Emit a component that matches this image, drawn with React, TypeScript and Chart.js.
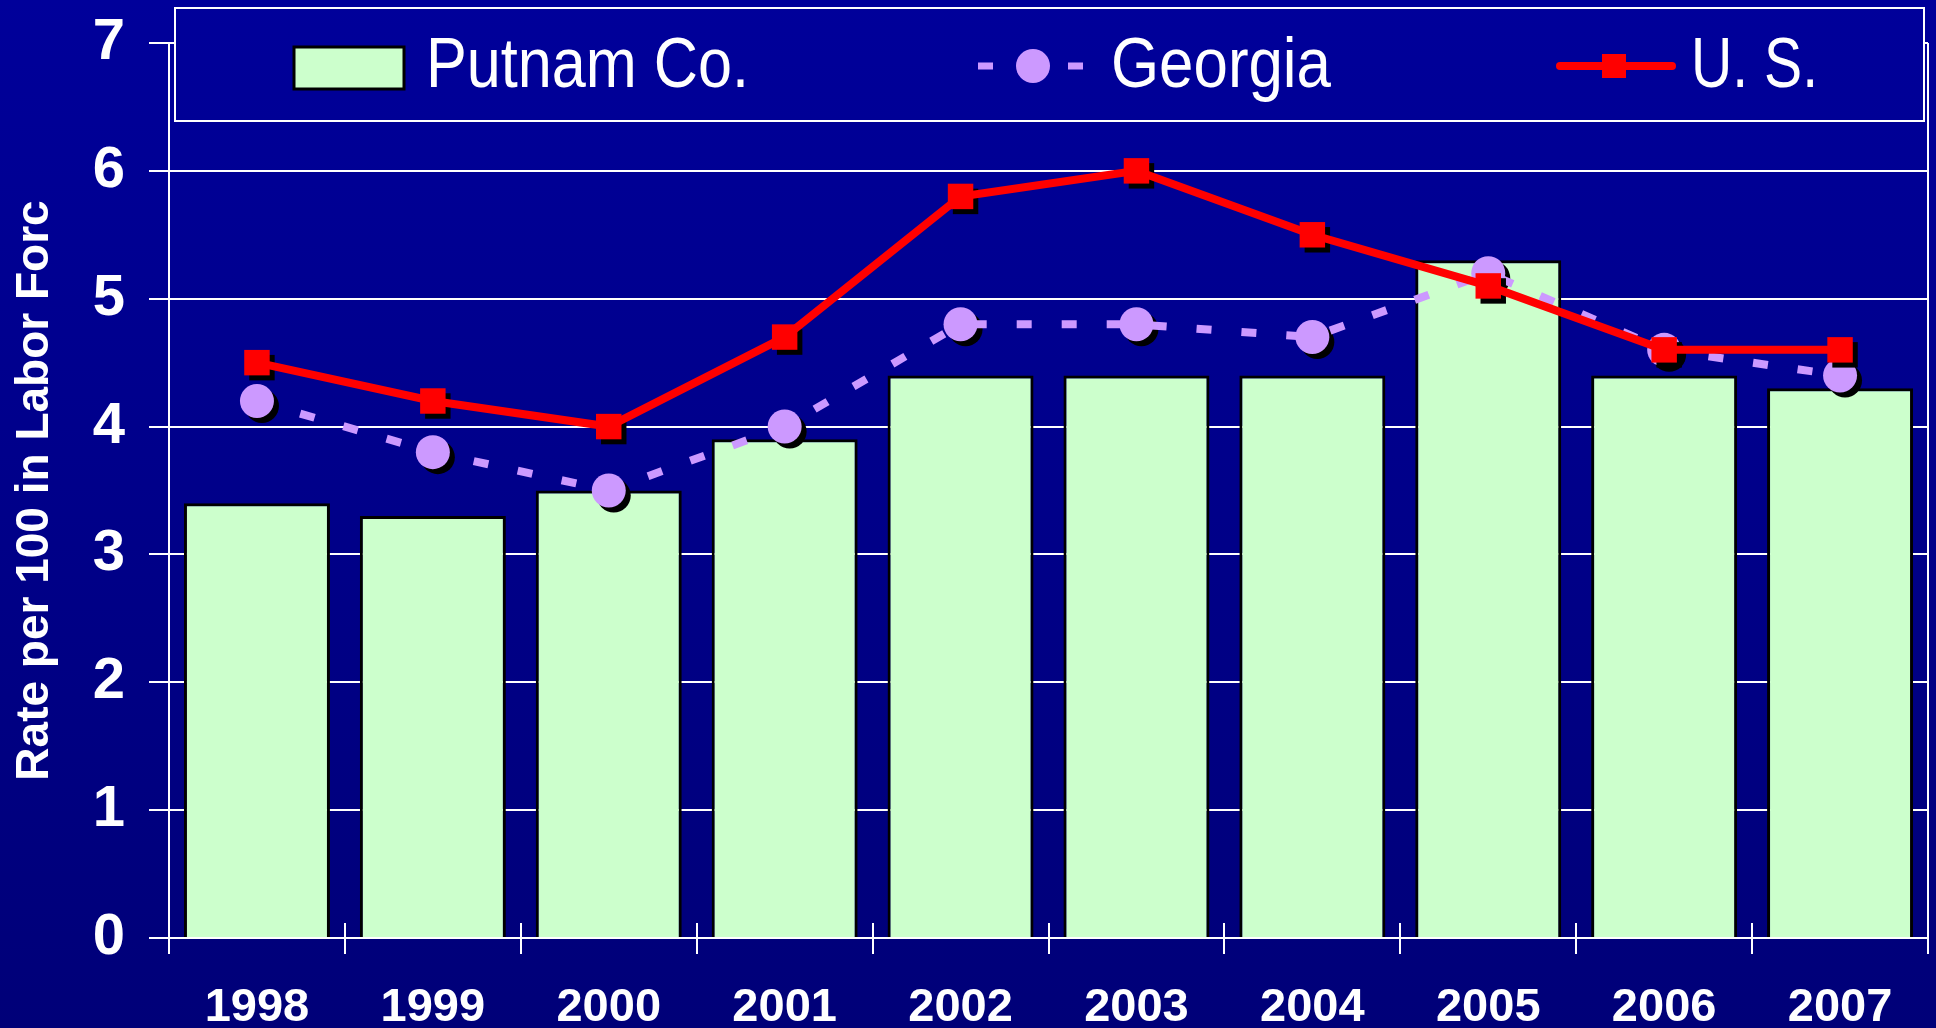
import React, { useEffect, useRef } from "react";
import { Chart, registerables } from "chart.js";

Chart.register(...registerables);

const years = ["1998", "1999", "2000", "2001", "2002", "2003", "2004", "2005", "2006", "2007"];
const putnamValues = [3.4, 3.3, 3.5, 3.9, 4.4, 4.4, 4.4, 5.3, 4.4, 4.3];
const georgiaValues = [4.2, 3.8, 3.5, 4.0, 4.8, 4.8, 4.7, 5.2, 4.6, 4.4];
const usValues = [4.5, 4.2, 4.0, 4.7, 5.8, 6.0, 5.5, 5.1, 4.6, 4.6];
const seriesLabels = ["Putnam Co.", "Georgia", "U. S."];
const yAxisTitle = "Rate per 100 in Labor Forc";
const yMin = 0;
const yMax = 7;
const yStep = 1;

const FONT = "'Liberation Sans', Arial, sans-serif";
const NARROW = "'Liberation Sans Narrow', 'Arial Narrow', 'Liberation Sans', sans-serif";
const BAR_FILL = "#CCFFCC";
const GEORGIA_COLOR = "#CC99FF";
const US_COLOR = "#FF0000";
const CANVAS_W = 1946;
const CANVAS_H = 1028;

function makeGradient(ctx: CanvasRenderingContext2D, h: number) {
  const g = ctx.createLinearGradient(0, 0, 0, h);
  g.addColorStop(0, "#00009A");
  g.addColorStop(1, "#000078");
  return g;
}

const backgroundPlugin = {
  id: "bgGradient",
  beforeDraw(chart: any) {
    const { ctx, width, height } = chart;
    ctx.save();
    ctx.fillStyle = makeGradient(ctx, height);
    ctx.fillRect(0, 0, width, height);
    ctx.restore();
  },
};

const framePlugin = {
  id: "frameTicks",
  beforeDatasetsDraw(chart: any) {
    const { ctx, chartArea } = chart;
    const { right, top, bottom } = chartArea;
    const x = chart.scales.x;
    ctx.save();
    ctx.strokeStyle = "#FFFFFF";
    ctx.lineWidth = 2;
    ctx.beginPath();
    ctx.moveTo(right, top);
    ctx.lineTo(right, bottom);
    ctx.stroke();
    const n = chart.data.labels.length;
    for (let i = 0; i <= n; i++) {
      const px = Math.round(x.getPixelForValue(i - 0.5));
      ctx.beginPath();
      ctx.moveTo(px, bottom - 15);
      ctx.lineTo(px, bottom + 16);
      ctx.stroke();
    }
    ctx.restore();
  },
};

const shadowPlugin = {
  id: "pointShadow",
  beforeDatasetDraw(chart: any, args: any) {
    const meta = args.meta;
    if (meta.type !== "line") return;
    const ctx = chart.ctx;
    ctx.save();
    ctx.fillStyle = "#000000";
    meta.data.forEach((pt: any) => {
      const { x, y } = pt.getProps(["x", "y"], true);
      const r = pt.options.radius;
      if (pt.options.pointStyle === "rect") {
        const s = r * Math.SQRT1_2;
        ctx.fillRect(x - s + 5, y - s + 5, 2 * s, 2 * s);
      } else {
        ctx.beginPath();
        ctx.arc(x + 5, y + 5, r, 0, Math.PI * 2);
        ctx.fill();
      }
    });
    ctx.restore();
  },
};

const legendPlugin = {
  id: "boxLegend",
  afterDatasetsDraw(chart: any) {
    const { ctx, height } = chart;
    const ds = chart.data.datasets;
    ctx.save();
    ctx.fillStyle = makeGradient(ctx, height);
    ctx.fillRect(175, 8, 1749, 113);
    ctx.strokeStyle = "#FFFFFF";
    ctx.lineWidth = 2;
    ctx.strokeRect(175, 8, 1749, 113);

    const cy = 66;
    ctx.font = `70px ${NARROW}`;
    ctx.textBaseline = "middle";
    ctx.textAlign = "left";

    // Putnam swatch
    ctx.fillStyle = BAR_FILL;
    ctx.fillRect(294, 47, 110, 42);
    ctx.strokeStyle = "#000000";
    ctx.lineWidth = 3;
    ctx.strokeRect(294, 47, 110, 42);
    ctx.fillStyle = "#FFFFFF";
    ctx.fillText(ds[0].label, 426, cy + 2, 323);

    // Georgia symbol
    ctx.strokeStyle = GEORGIA_COLOR;
    ctx.lineWidth = 7;
    ctx.setLineDash([15, 30]);
    ctx.lineCap = "butt";
    ctx.beginPath();
    ctx.moveTo(978, cy);
    ctx.lineTo(1083, cy);
    ctx.stroke();
    ctx.setLineDash([]);
    ctx.fillStyle = GEORGIA_COLOR;
    ctx.beginPath();
    ctx.arc(1033, cy, 17, 0, Math.PI * 2);
    ctx.fill();
    ctx.fillStyle = "#FFFFFF";
    ctx.fillText(ds[1].label, 1111, cy + 2, 220);

    // US symbol
    ctx.strokeStyle = US_COLOR;
    ctx.lineWidth = 8;
    ctx.lineCap = "round";
    ctx.beginPath();
    ctx.moveTo(1560, cy);
    ctx.lineTo(1672, cy);
    ctx.stroke();
    ctx.fillStyle = US_COLOR;
    ctx.fillRect(1602, cy - 12, 24, 24);
    ctx.fillStyle = "#FFFFFF";
    ctx.fillText(ds[2].label, 1691, cy + 2, 127);
    ctx.restore();
  },
};

export default function App() {
  const ref = useRef<HTMLCanvasElement>(null);

  useEffect(() => {
    document.body.style.margin = "0";
    document.body.style.overflow = "hidden";
    const canvas = ref.current;
    if (!canvas) return;
    const chart = new Chart(canvas, {
      type: "bar",
      data: {
        labels: years,
        datasets: [
          {
            type: "bar",
            label: seriesLabels[0],
            data: putnamValues,
            backgroundColor: BAR_FILL,
            borderColor: "#000000",
            borderWidth: 3,
            barPercentage: 0.83,
            categoryPercentage: 1,
            order: 3,
          } as any,
          {
            type: "line",
            label: seriesLabels[1],
            data: georgiaValues,
            borderColor: GEORGIA_COLOR,
            borderWidth: 8,
            borderDash: [15, 30],
            borderCapStyle: "butt",
            tension: 0,
            pointStyle: "circle",
            pointRadius: 17,
            pointBackgroundColor: GEORGIA_COLOR,
            pointBorderWidth: 0,
            pointBorderColor: GEORGIA_COLOR,
            order: 2,
          } as any,
          {
            type: "line",
            label: seriesLabels[2],
            data: usValues,
            borderColor: US_COLOR,
            borderWidth: 8,
            tension: 0,
            pointStyle: "rect",
            pointRadius: 18,
            pointBackgroundColor: US_COLOR,
            pointBorderWidth: 0,
            pointBorderColor: US_COLOR,
            order: 1,
          } as any,
        ],
      },
      options: {
        responsive: false,
        animation: false,
        devicePixelRatio: 1,
        layout: { padding: { left: 0, right: 0, top: 43, bottom: 0 } },
        plugins: {
          legend: { display: false },
          tooltip: { enabled: false },
        },
        scales: {
          x: {
            offset: true,
            grid: { display: false },
            border: { display: true, color: "#FFFFFF", width: 2 },
            ticks: {
              color: "#FFFFFF",
              font: { family: FONT, size: 47, weight: "bold" },
              padding: 34,
              maxRotation: 0,
              autoSkip: false,
            },
            afterFit: (s: any) => {
              s.height = 90;
              s.paddingLeft = 0;
              s.paddingRight = 0;
              s.paddingTop = 0;
              s.paddingBottom = 0;
            },
          },
          y: {
            min: yMin,
            max: yMax,
            ticks: {
              stepSize: yStep,
              color: "#FFFFFF",
              font: { family: FONT, size: 58, weight: "bold" },
              padding: 24,
            },
            grid: { color: "#FFFFFF", lineWidth: 2, tickLength: 20, drawTicks: true },
            border: { display: true, color: "#FFFFFF", width: 2 },
            title: {
              display: true,
              text: yAxisTitle,
              color: "#FFFFFF",
              font: { family: FONT, size: 46, weight: "bold" },
              padding: { top: 8, bottom: 0 },
            },
            afterFit: (s: any) => {
              s.width = 169;
              s.paddingLeft = 0;
              s.paddingRight = 0;
              s.paddingTop = 0;
              s.paddingBottom = 0;
            },
          },
        },
      } as any,
      plugins: [backgroundPlugin, framePlugin, shadowPlugin, legendPlugin],
    });
    return () => chart.destroy();
  }, []);

  return (
    <div style={{ width: 1936, height: 1028, overflow: "hidden", position: "relative" }}>
      <canvas
        ref={ref}
        width={CANVAS_W}
        height={CANVAS_H}
        style={{ display: "block", width: CANVAS_W, height: CANVAS_H }}
      />
    </div>
  );
}
